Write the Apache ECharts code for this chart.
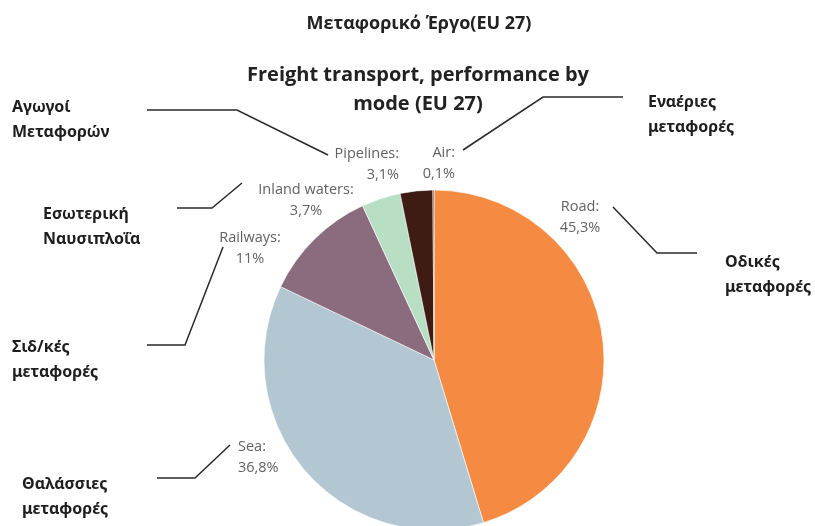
<!DOCTYPE html>
<html>
<head>
<meta charset="utf-8">
<script src="https://cdn.jsdelivr.net/npm/echarts@6/dist/echarts.min.js"></script>
<style>
html,body{margin:0;padding:0;background:#fff;}
#chart{width:815px;height:526px;}
</style>
</head>
<body>
<div id="chart"></div>
<script>
// ---- data ----
const categories = ['Road', 'Sea', 'Railways', 'Inland waters', 'Pipelines', 'Air'];
const shares = [45.3, 36.8, 11, 3.7, 3.1, 0.1];
const greekNames = ['Οδικές\nμεταφορές', 'Θαλάσσιες\nμεταφορές', 'Σιδ/κές\nμεταφορές', 'Εσωτερική\nΝαυσιπλοΐα', 'Αγωγοί\nΜεταφορών', 'Εναέριες\nμεταφορές'];
const titleGreek = 'Μεταφορικό Έργο(EU 27)';
const titleEnglish = 'Freight transport, performance by\nmode (EU 27)';

// ---- styles / layout ----
const colors = ['#F58A42', '#B3C7D3', '#8A6C7E', '#B8DEC4', '#3E1C14', '#4a2e1e'];
const labelPlace = {
  'Road': {x: 580, y: 217, align: 'center'},
  'Sea': {x: 238, y: 457, align: 'left'},
  'Railways': {x: 250, y: 248, align: 'center'},
  'Inland waters': {x: 306, y: 200, align: 'center'},
  'Pipelines': {x: 399, y: 164, align: 'right'},
  'Air': {x: 455, y: 163, align: 'right'}
};
const notePlace = [
  {x: 725, y: 250, line: [[613, 207], [657, 253], [697, 253]]},
  {x: 22, y: 472, line: [[157, 478], [195, 478], [230, 445]]},
  {x: 12, y: 335, line: [[147, 345], [185, 345], [223, 247]]},
  {x: 43, y: 202, line: [[177, 208], [212, 208], [242, 183]]},
  {x: 12, y: 95, line: [[147, 110], [237, 110], [328, 155]]},
  {x: 648, y: 90, line: [[623, 97], [543, 97], [463, 150]]}
];

const fmt = v => String(v).replace('.', ',');

const graphic = [
  {type: 'text', x: 419, y: 15, style: {text: titleGreek, font: 'bold 18px "Open Sans"', fill: '#222', textAlign: 'center', textVerticalAlign: 'top'}},
  {type: 'text', x: 418, y: 61, style: {text: titleEnglish, font: 'bold 20px "Open Sans"', fill: '#222', textAlign: 'center', textVerticalAlign: 'top', lineHeight: 29}}
];
greekNames.forEach((t, i) => {
  const p = notePlace[i];
  graphic.push({type: 'polyline', shape: {points: p.line}, style: {stroke: '#2a2a2a', lineWidth: 1.5, fill: null}});
  graphic.push({type: 'text', x: p.x, y: p.y, style: {text: t, font: 'bold 16px "Noto Sans"', fill: '#1e1e1e', lineHeight: 25, textAlign: 'left', textVerticalAlign: 'top'}});
});

const chart = echarts.init(document.getElementById('chart'));
chart.setOption({
  backgroundColor: '#fff',
  animation: false,
  color: colors,
  graphic: graphic,
  series: [{
    type: 'pie',
    center: [434, 360],
    radius: 170,
    startAngle: 90,
    clockwise: true,
    avoidLabelOverlap: false,
    itemStyle: {borderColor: '#fff', borderWidth: 0.6},
    label: {
      show: true,
      position: 'outside',
      formatter: p => p.name + ':\n' + fmt(p.value) + '%',
      fontFamily: 'Open Sans',
      fontSize: 14.5,
      color: '#626262',
      lineHeight: 21
    },
    labelLine: {show: false},
    labelLayout: params => {
      const name = categories[params.dataIndex];
      const p = labelPlace[name];
      return {x: p.x, y: p.y, align: p.align, verticalAlign: 'middle'};
    },
    data: categories.map((c, i) => ({name: c, value: shares[i]}))
  }]
});
</script>
</body>
</html>
